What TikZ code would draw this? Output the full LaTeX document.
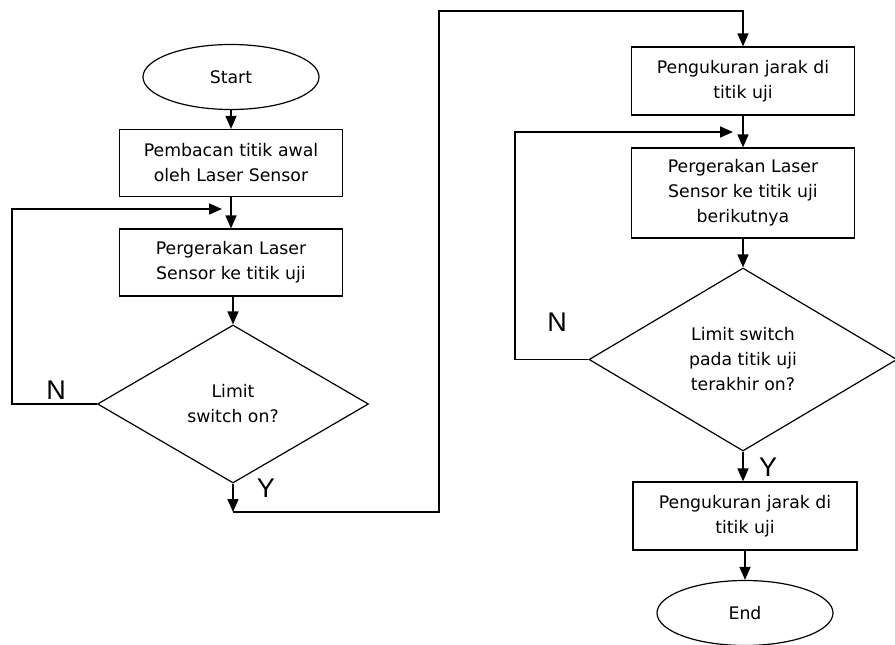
\documentclass[tikz,border=0pt]{standalone}
\usepackage{fontspec}
\setmainfont{DejaVu Sans}
\newfontfamily\labfont{Liberation Sans}
\usetikzlibrary{shapes.geometric,arrows.meta}
\begin{document}
\begin{tikzpicture}[x=1pt,y=-1pt,
  txt/.style={font=\fontsize{17.3}{25}\selectfont,align=center},
  box/.style={txt,draw,line width=1.2pt,rectangle,inner sep=0pt,minimum width=223pt},
  term/.style={txt,draw,line width=1.2pt,ellipse,inner sep=0pt,minimum width=176pt,minimum height=65pt},
  dec/.style={txt,draw,line width=1.2pt,diamond,inner sep=0pt,aspect=1.7},
  lab/.style={font=\labfont\fontsize{27}{30}\selectfont,inner sep=0pt},
  conn/.style={line width=1.6pt},
  arr/.style={conn,-{Triangle[length=13pt,width=11pt]}}
]
\fill[white] (0,0) rectangle (895,645);
\useasboundingbox (0,0) rectangle (895,645);

% left column
\node[term] (start) at (231,77) {Start};
\node[box,minimum height=67pt] (b1) at (231,163) {Pembacan titik awal\\oleh Laser Sensor};
\node[box,minimum height=67pt] (b2) at (231,262.5) {Pergerakan Laser\\Sensor ke titik uji};
\node[dec,minimum width=271pt,minimum height=158pt] (d1) at (233,404) {Limit\\switch on?};

% right column
\node[box,minimum height=68pt] (b3) at (743,81) {Pengukuran jarak di\\titik uji};
\node[box,minimum height=90pt] (b4) at (743,193) {Pergerakan Laser\\Sensor ke titik uji\\berikutnya};
\node[dec,minimum width=308pt,minimum height=183pt] (d2) at (743,359.5) {Limit switch\\pada titik uji\\terakhir on?};
\node[box,minimum width=224pt,minimum height=68pt] (b5) at (745,516) {Pengukuran jarak di\\titik uji};
\node[term] (end) at (745,613) {End};

% labels
\node[lab] (n1) at (56,390) {N};
\node[lab] (y1) at (266,488) {Y};
\node[lab] (n2) at (557,322) {N};
\node[lab] (y2) at (768,467) {Y};

% helper coordinates
\coordinate (lp1) at (12,209);
\coordinate (lp2) at (222,209);
\coordinate (yc) at (233,512);
\coordinate (top1) at (439,11);
\coordinate (rp1) at (515,132);
\coordinate (rp2) at (733,132);

% connectors left
\draw[arr] (start.south) -- (start.south |- b1.north);
\draw[arr] (b1.south) -- (b1.south |- b2.north);
\draw[arr] (b2.south) -- (b2.south -| d1.north) -- (d1.north);
\draw[arr] (d1.west) -| (lp1) -- (lp2);
\draw[arr] (d1.south) -- (yc);
\draw[arr] (yc) -| (top1) -| (b3.north);

% connectors right
\draw[arr] (b3.south) -- (b4.north);
\draw[arr] (d2.west) -| (rp1) -- (rp2);
\draw[arr] (b4.south) -- (d2.north);
\draw[arr] (d2.south) -- (d2.south |- b5.north);
\draw[arr] (b5.south) -- (b5.south |- end.north);
\end{tikzpicture}
\end{document}
